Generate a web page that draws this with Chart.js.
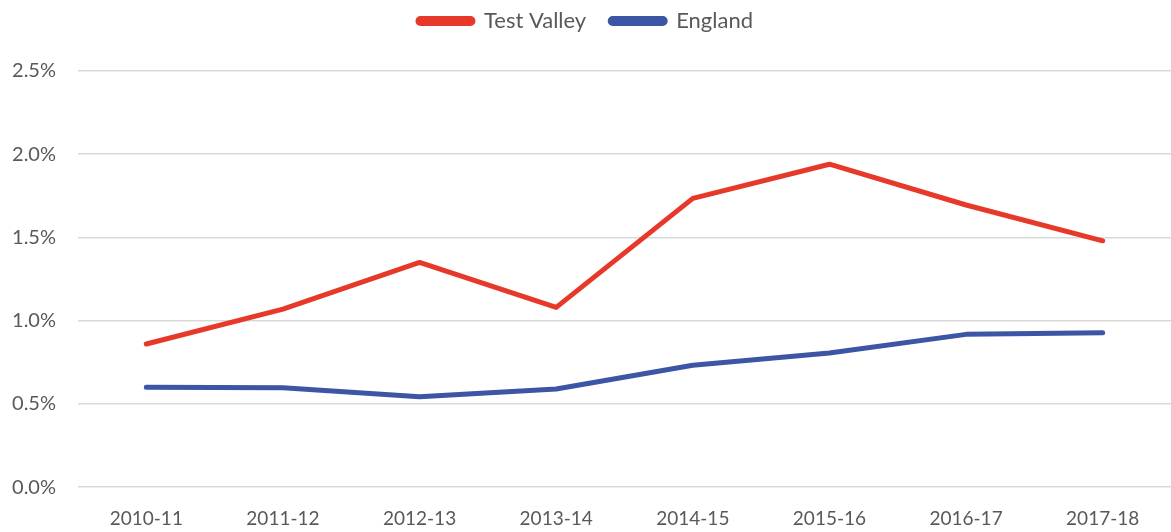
<!DOCTYPE html>
<html>
<head>
<meta charset="utf-8">
<script src="https://cdn.jsdelivr.net/npm/chart.js@4"></script>
<style>
  html, body { margin: 0; padding: 0; background: #fff; }
  #wrap { width: 1171px; height: 532px; }
</style>
</head>
<body>
<div id="wrap"><canvas id="c"></canvas></div>
<script>
const categories = ['2010-11','2011-12','2012-13','2013-14','2014-15','2015-16','2016-17','2017-18'];
const testValley = [0.86, 1.07, 1.35, 1.08, 1.735, 1.94, 1.695, 1.48];
const england = [0.60, 0.597, 0.543, 0.59, 0.733, 0.806, 0.918, 0.928];
const seriesNames = ['Test Valley', 'England'];

const RED = '#E6392A';
const BLUE = '#3C55A5';
const TEXT = '#595959';
const FONT = 'Lato, "Open Sans", sans-serif';

new Chart(document.getElementById('c'), {
  type: 'line',
  data: {
    labels: categories,
    datasets: [
      { label: seriesNames[0], data: testValley, borderColor: RED, backgroundColor: RED,
        borderWidth: 5, pointRadius: 0, tension: 0, borderCapStyle: 'round', borderJoinStyle: 'round' },
      { label: seriesNames[1], data: england, borderColor: BLUE, backgroundColor: BLUE,
        borderWidth: 5, pointRadius: 0, tension: 0, borderCapStyle: 'round', borderJoinStyle: 'round' }
    ]
  },
  options: {
    responsive: true,
    maintainAspectRatio: false,
    animation: false,
    layout: { padding: { left: 0, right: 0, top: -14, bottom: -10 } },
    plugins: {
      legend: {
        position: 'top',
        labels: {
          boxWidth: 55, boxHeight: 5, padding: 24, useBorderRadius: true, borderRadius: 2.5,
          color: TEXT, font: { family: FONT, size: 22 }
        }
      },
      subtitle: {
        display: true, text: ' ', weight: 500,
        font: { size: 10 }, padding: { top: 17, bottom: 0 }
      },
      tooltip: { enabled: false }
    },
    scales: {
      x: {
        offset: true,
        grid: { display: false },
        border: { display: false },
        ticks: { color: TEXT, font: { family: FONT, size: 19 }, padding: 12, maxRotation: 0 }
      },
      y: {
        min: 0, max: 2.5,
        afterFit: (s) => { s.width = 78; },
        grid: { color: '#D9D9D9', lineWidth: 1.5, drawTicks: false },
        border: { display: false },
        ticks: {
          stepSize: 0.5, color: TEXT, font: { family: FONT, size: 20 }, padding: 22,
          callback: (v) => v.toFixed(1) + '%'
        }
      }
    }
  }
});
</script>
</body>
</html>
